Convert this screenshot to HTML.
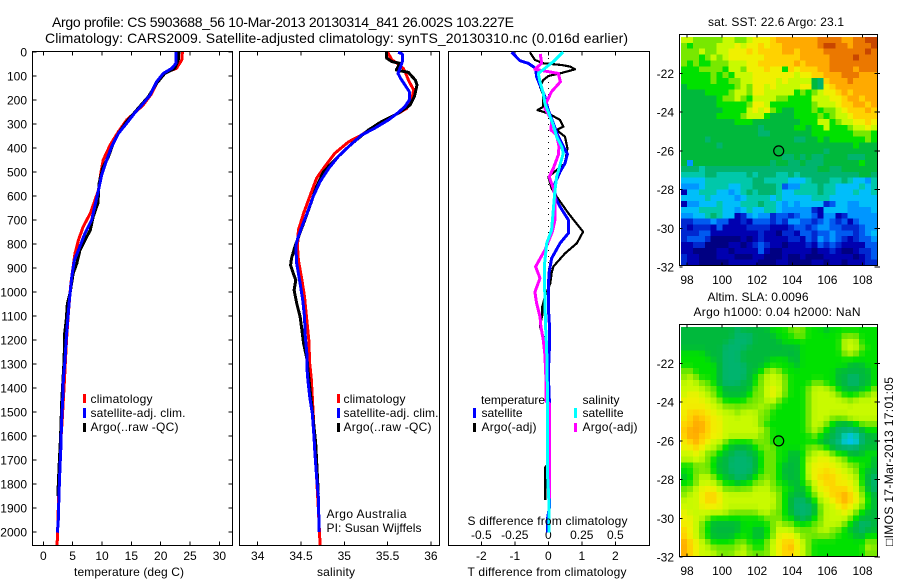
<!DOCTYPE html>
<html>
<head>
<meta charset="utf-8">
<title>Argo profile</title>
<style>
html,body{margin:0;padding:0;background:#fff;}
svg{display:block;}
text{font-family:"Liberation Sans",sans-serif;font-size:12px;fill:#000;}
.ttl{font-size:14px;}
</style>
</head>
<body>
<svg id="fig" xmlns="http://www.w3.org/2000/svg" width="900" height="580" viewBox="0 0 900 580">
<rect x="0" y="0" width="900" height="580" fill="#fff"/>
<text class="ttl" x="52" y="27" textLength="462">Argo profile: CS 5903688_56  10-Mar-2013 20130314_841 26.002S 103.227E</text>
<text class="ttl" x="45" y="43" textLength="583">Climatology: CARS2009. Satellite-adjusted climatology: synTS_20130310.nc (0.016d earlier)</text>

<g id="heat1"></g>
<g id="heat2"></g>
<g id="axes"></g>
<g id="marks"></g>

<g>
<text x="90.5" y="403" textLength="62">climatology</text>
<text x="90.5" y="417" textLength="95">satellite-adj. clim.</text>
<text x="90.5" y="431" textLength="88">Argo(..raw -QC)</text>
<rect x="83" y="394" width="3" height="9" fill="#f00"/>
<rect x="83" y="408" width="3" height="10" fill="#00f"/>
<rect x="83" y="423" width="3" height="9" fill="#000"/>
</g>
<g>
<text x="343.5" y="403" textLength="62">climatology</text>
<text x="343.5" y="417" textLength="95">satellite-adj. clim.</text>
<text x="343.5" y="431" textLength="88">Argo(..raw -QC)</text>
<rect x="337" y="394" width="3" height="9" fill="#f00"/>
<rect x="337" y="408" width="3" height="10" fill="#00f"/>
<rect x="337" y="423" width="3" height="9" fill="#000"/>
<text x="326.5" y="518" textLength="80">Argo Australia</text>
<text x="326.5" y="532" textLength="95">PI: Susan Wijffels</text>
</g>
<g>
<text x="481" y="404" textLength="64">temperature</text>
<text x="481.5" y="417" textLength="41">satellite</text>
<text x="481.5" y="431" textLength="55">Argo(-adj)</text>
<text x="582.5" y="404" textLength="37">salinity</text>
<text x="582.5" y="417" textLength="41">satellite</text>
<text x="582.5" y="431" textLength="55">Argo(-adj)</text>
<rect x="473" y="408" width="3" height="10" fill="#00f"/>
<rect x="473" y="423" width="3" height="9" fill="#000"/>
<rect x="574" y="408" width="3" height="10" fill="#0ff"/>
<rect x="574" y="423" width="3" height="9" fill="#f0f"/>
<text x="467.5" y="525" textLength="160">S difference from climatology</text>
</g>

<text x="129" y="576" text-anchor="middle" textLength="110">temperature (deg C)</text>
<text x="336" y="576" text-anchor="middle" textLength="38">salinity</text>
<text x="547" y="576" text-anchor="middle" textLength="159">T difference from climatology</text>

<text x="776" y="26" text-anchor="middle" textLength="136">sat. SST: 22.6 Argo: 23.1</text>
<text x="758" y="301" text-anchor="middle" textLength="101">Altim. SLA: 0.0096</text>
<text x="777" y="316" text-anchor="middle" textLength="167">Argo h1000: 0.04 h2000: NaN</text>
<text transform="translate(893,546) rotate(-90)" x="0" y="0" textLength="169">□IMOS 17-Mar-2013 17:01:05</text>
</svg>

<script>
/* ---------- profile data: depths in dbar, temperature in deg C, salinity in psu ---------- */
var tempClimDepth = [0,33,68,89,117,179,221,253,283,332,387,450,506,575,617,672,728,783,839,908,964,1080,1200,1370,1540,1650,1800,1950,2055];
var tempClimValue = [23.7,23.6,22.7,20.45,19.6,18.3,17.0,15.6,14.2,12.8,11.4,10.2,9.8,9.4,8.8,8.0,6.8,6.0,5.4,5.0,4.7,4.3,3.95,3.6,3.2,2.9,2.65,2.5,2.35];
var tempArgoDepth = [0,33,68,89,131,186,242,290,339,381,436,485,547,630,686,742,783,825,881,922,1006,1047,1117,1172,1283,1450,1600,1700,1800,1850];
var tempArgoValue = [23.1,23.0,22.4,20.7,19.3,17.9,15.9,14.2,12.8,11.9,11.1,10.1,9.5,9.3,8.5,8.0,7.1,6.25,5.7,5.1,4.55,4.1,3.9,3.65,3.55,3.15,2.95,2.75,2.55,2.5];
var tempSatDepth = [0,47,68,89,124,179,221,253,297,339,394,450,512,575,630,700,755,825,867,936,1033,1130,1200,1283,1367,1450,1547,1644,1727,1840,1950,2003];
var tempSatValue = [22.6,22.6,21.9,20.45,19.3,18.2,16.8,15.6,14.2,12.8,11.65,10.8,9.95,9.4,8.9,8.25,7.1,6.0,5.3,4.85,4.45,4.1,3.9,3.7,3.4,3.3,3.1,3.0,2.85,2.67,2.56,2.4];

var salClimDepth = [1,33,47,68,89,117,158,200,235,256,290,346,374,422,485,526,603,672,742,811,867,950,1019,1130,1200,1297,1367,1500,1700,1900,2055];
var salClimValue = [35.50,35.55,35.61,35.68,35.71,35.74,35.80,35.78,35.72,35.62,35.43,35.20,35.05,34.89,34.76,34.68,34.60,34.53,34.47,34.46,34.47,34.51,34.54,34.57,34.59,34.60,34.62,34.64,34.67,34.70,34.72];
var salArgoDepth = [1,26,40,47,75,85,117,137,186,221,256,290,325,381,436,499,561,644,714,742,811,860,888,922,950,992,1047,1103,1158,1214,1283,1321,1630,1840];
var salArgoValue = [35.49,35.49,35.55,35.64,35.60,35.74,35.82,35.84,35.81,35.76,35.62,35.43,35.28,35.09,34.93,34.76,34.68,34.60,34.53,34.50,34.43,34.39,34.38,34.41,34.44,34.42,34.45,34.49,34.51,34.53,34.57,34.58,34.67,34.70];
var salSatDepth = [1,8,40,61,89,110,137,165,200,228,253,283,318,346,394,436,485,540,603,672,728,779,811,881,964,1033,1103,1186,1269,1325,1367,1436,1506,1603,1672,1769,1853,2000];
var salSatValue = [35.62,35.67,35.67,35.65,35.62,35.65,35.70,35.75,35.75,35.70,35.62,35.51,35.35,35.20,35.05,34.93,34.82,34.72,34.64,34.57,34.51,34.46,34.44,34.45,34.49,34.52,34.54,34.55,34.57,34.57,34.58,34.60,34.63,34.65,34.66,34.68,34.70,34.71];

/* temperature difference (black, blue) on T scale, salinity difference (magenta, cyan) on S scale */
var diffTArgoDepth = [1,33,47,54,61,72,89,100,117,144,179,228,242,256,283,311,325,353,401,464,492,520,568,603,672,749,797,839,894,922,964,1019,1061,1096,1144,1193,1269,1367,1450,1720,1730,1867];
var diffTArgoValue = [-0.55,-0.4,-0.15,0.4,0.65,0.8,0.35,0,-0.15,-0.25,-0.15,-0.15,-0.32,0,0.35,0.45,0.25,0.5,0.57,0.5,0.25,0,0.1,0.25,0.6,1.04,0.85,0.5,0.15,0.1,0.06,-0.1,-0.18,-0.18,-0.25,-0.13,-0.05,-0.05,-0.03,-0.03,-0.09,-0.09];
var diffTSatDepth = [1,36,47,68,103,137,186,242,297,353,394,425,464,499,547,603,644,700,755,797,860,922,992,1061,1130,1242,1339,1450,1900,1950,2003];
var diffTSatValue = [-1.09,-0.85,-0.6,-0.38,-0.35,-0.25,-0.1,0,0.15,0.3,0.45,0.57,0.5,0.35,0.2,0.2,0.35,0.6,0.6,0.35,0.1,0.02,0,0,0.03,0.03,0,0.03,0.03,-0.03,-0.03];
var diffSArgoDepth = [8,47,72,89,124,165,207,235,283,325,346,394,429,485,520,568,603,700,749,825,894,943,1000,1047,1103,1144,1200,1262,1367,1455,1465,1860];
var diffSArgoValue = [-0.06,-0.05,-0.1,0.075,0.09,0.025,-0.012,-0.025,0.025,0.02,0.062,0.08,0.075,0.037,0.007,0.037,0.05,0.05,0.03,-0.025,-0.095,-0.062,-0.1,-0.087,-0.062,-0.055,-0.037,-0.025,-0.017,-0.017,0.008,0.008];
var diffSSatDepth = [1,6,40,68,89,124,172,214,250,304,353,394,422,471,520,575,658,742,797,894,1033,1144,1242,1408,1450,1750,1880,2003];
var diffSSatValue = [0.112,0.1,0.037,-0.025,-0.075,-0.062,-0.037,-0.025,0,0.037,0.062,0.1,0.112,0.087,0.062,0.05,0.037,0.025,-0.012,-0.03,-0.025,-0.02,-0.012,-0.007,-0.007,-0.007,0.005,0.007];

/* ---------- axis tick labels ---------- */
var depthTicks = [0,100,200,300,400,500,600,700,800,900,1000,1100,1200,1300,1400,1500,1600,1700,1800,1900,2000];
var tempTicks = [0,5,10,15,20,25,30];
var salTicks = [34,34.5,35,35.5,36];
var diffTTicks = [-2,-1,0,1,2];
var diffSTicks = [-0.5,-0.25,0,0.25,0.5];
var lonTicks = [98,100,102,104,106,108];
var latTicks = [-22,-24,-26,-28,-30,-32];

/* ---------- float position ---------- */
var floatLon = [103.227];
var floatLat = [-26.002];

/* ---------- map grids: colour levels on the shared palette, north row first ---------- */
var sstGrid = [
[11,11,10,10,10,10,10,11,11,10,10,11,12,12,12,13,14,14,14,14,14,14,14,15,15,15,15,14,14,15,15,16,16],
[10,9,10,10,10,10,11,11,11,12,11,12,12,13,12,13,13,14,14,14,14,14,14,15,16,16,15,15,14,15,15,15,16],
[10,10,10,11,10,10,11,11,12,12,12,13,12,13,13,13,13,14,14,13,14,14,14,14,15,15,15,15,15,15,15,16,15],
[10,10,10,9,10,11,10,11,12,12,12,12,12,12,13,13,13,13,13,13,14,14,14,14,14,15,15,15,15,16,15,15,15],
[10,9,10,9,9,10,10,10,11,11,11,12,12,13,13,13,13,13,13,14,13,14,14,14,14,15,15,15,15,15,15,15,15],
[9,9,9,10,10,10,10,9,11,11,10,12,12,12,13,12,12,9,13,12,13,13,13,14,14,15,15,15,15,14,15,15,15],
[9,9,9,9,9,10,9,10,9,11,11,11,12,12,12,12,12,12,12,11,12,12,13,13,14,14,14,15,15,15,14,14,14],
[9,9,9,9,9,10,9,9,10,10,11,11,12,12,12,12,11,12,11,11,11,11,8,7,13,14,14,14,15,14,14,14,14],
[8,9,9,9,9,9,9,9,9,10,11,10,12,12,11,12,11,11,11,11,12,12,8,7,12,13,14,14,14,14,14,14,14],
[8,8,8,8,9,9,9,9,10,11,11,10,12,12,11,11,11,11,11,9,10,9,10,11,12,12,13,14,13,14,14,14,14],
[8,8,8,8,8,8,9,10,10,11,10,9,11,11,11,11,10,10,9,9,9,9,11,11,11,12,12,13,14,14,13,14,14],
[8,8,8,8,8,8,9,9,9,9,9,10,12,12,11,9,9,9,9,9,9,9,10,11,11,11,12,13,13,14,14,13,14],
[8,8,8,8,8,8,8,9,9,9,9,11,12,11,12,10,9,8,8,9,9,9,10,9,10,10,11,12,13,13,13,14,13],
[8,8,8,8,8,8,9,9,9,9,10,11,11,11,9,8,8,8,8,9,9,9,9,10,9,10,11,11,12,13,13,13,13],
[8,8,8,8,8,8,8,8,8,9,9,9,8,8,8,8,8,8,8,8,9,9,9,11,11,9,10,11,11,12,12,13,12],
[8,8,8,8,8,8,8,8,8,8,8,8,8,7,8,8,8,8,8,9,9,8,9,9,11,9,9,9,10,11,11,12,11],
[8,8,8,8,8,8,8,8,8,8,8,8,8,7,7,8,8,8,8,8,8,8,9,9,9,9,9,9,9,10,10,10,9],
[8,8,8,8,7,8,8,8,8,8,8,8,8,8,8,8,8,8,8,7,7,8,8,9,8,9,9,9,9,9,9,10,9],
[8,8,8,8,8,8,7,8,8,8,8,8,8,8,8,8,8,8,8,8,8,8,8,8,8,8,8,8,8,9,8,8,8],
[8,8,8,8,8,8,8,8,8,8,8,8,8,8,8,8,8,8,8,8,8,8,8,8,7,8,8,8,8,8,8,8,8],
[8,8,8,8,8,8,8,8,8,8,8,8,8,8,8,8,8,7,7,8,7,8,7,7,8,8,8,8,7,7,7,8,8],
[8,4,8,8,8,8,8,8,8,8,8,8,8,8,8,7,8,8,7,7,8,7,7,7,8,8,8,8,8,8,9,8,8],
[7,7,7,6,7,7,7,7,7,7,7,7,7,7,7,7,7,7,7,7,7,7,7,8,8,7,7,8,8,8,8,8,8],
[6,6,6,6,7,7,6,6,6,6,6,7,6,7,7,7,6,6,7,6,7,7,7,7,7,7,7,7,7,7,8,8,7],
[5,5,5,5,6,6,6,6,6,6,6,6,7,7,6,6,6,6,5,5,5,6,7,7,7,6,6,7,6,5,5,4,6],
[4,4,4,5,6,6,6,6,5,5,6,6,7,7,7,7,6,3,4,4,6,6,6,7,6,6,5,5,5,5,6,5,6],
[1,5,5,6,6,6,5,5,4,5,6,7,6,7,7,7,6,5,5,6,6,6,6,7,6,6,5,5,5,6,5,5,6],
[5,5,5,5,6,5,5,5,5,4,5,6,6,6,6,5,6,5,5,5,5,5,6,6,6,5,5,5,5,5,5,5,5],
[1,4,4,5,5,5,6,5,5,5,6,6,6,7,6,6,5,4,5,4,5,5,5,5,2,3,5,5,4,4,5,5,5],
[5,5,5,6,6,6,6,5,5,4,5,6,5,5,6,6,5,4,4,4,4,4,2,1,5,5,5,5,4,4,4,4,5],
[4,4,5,5,6,7,6,5,5,1,2,4,5,4,4,2,3,3,2,3,4,4,3,1,4,4,1,2,4,4,4,4,4],
[2,2,3,3,3,4,3,3,1,1,2,1,3,3,3,2,3,2,4,4,3,3,2,3,4,3,2,3,1,3,4,4,4],
[2,1,2,2,2,1,3,1,1,1,1,2,2,2,2,1,1,1,2,3,3,2,3,4,4,3,3,2,2,2,3,4,4],
[2,2,2,3,3,1,1,1,1,1,1,1,1,2,1,1,0,2,2,1,3,3,2,3,3,4,3,3,3,2,3,4,5],
[2,3,3,3,2,0,0,0,0,0,1,0,1,2,1,1,1,1,2,2,1,3,2,4,3,4,3,2,1,2,3,3,4],
[1,1,2,2,0,0,0,0,1,1,0,1,2,3,2,1,1,0,1,1,1,2,1,3,2,3,2,1,1,1,1,3,3],
[1,1,0,0,0,0,1,1,0,1,1,1,1,3,1,0,0,1,1,1,1,1,0,1,1,2,1,0,0,1,2,2,3],
[2,1,1,0,0,0,1,1,1,0,0,0,1,1,0,0,0,1,0,0,1,0,0,0,1,1,1,1,1,0,1,2,3],
[2,1,1,0,0,0,0,0,1,1,1,1,1,0,0,0,1,1,0,0,0,0,1,1,0,1,1,0,1,1,1,2,2]
];
var slaGrid = [
[8,8,8,8,8,8,8,8,8,7,8,8,8,8,8,9,9,9,10,10,10,9,9,9,8,9,9,9,9,9,9,9,9],
[8,8,8,8,8,8,8,8,8,7,7,7,8,8,8,8,9,9,9,10,10,9,9,9,9,9,9,10,10,10,9,9,9],
[8,8,8,8,8,8,8,8,7,7,7,7,8,8,8,8,8,9,9,9,9,9,9,9,9,9,9,11,11,11,9,9,9],
[8,8,8,8,8,8,8,7,7,7,7,8,8,8,8,8,8,8,8,8,9,9,9,9,9,9,9,11,11,11,10,9,9],
[9,9,9,9,8,8,8,7,7,7,8,8,8,8,8,8,8,8,8,8,9,9,9,9,9,9,9,10,11,10,9,9,9],
[9,9,9,9,9,8,8,7,7,7,8,8,8,8,8,9,9,9,8,8,9,9,9,9,9,9,9,9,9,9,9,9,9],
[9,9,9,9,9,9,8,7,7,7,7,8,8,8,9,9,9,9,9,8,9,9,9,9,9,9,9,9,8,8,8,9,9],
[10,10,9,9,9,9,8,7,7,7,7,8,8,9,10,11,10,9,9,9,9,9,9,9,9,9,8,8,8,8,8,8,9],
[10,11,10,9,9,9,8,7,7,7,7,8,9,10,11,11,11,10,9,9,9,9,9,9,9,9,8,8,7,7,8,8,9],
[11,11,11,10,10,9,8,7,7,7,8,8,9,10,11,11,11,10,9,9,9,9,10,10,9,9,8,8,7,7,8,8,9],
[11,11,11,11,10,10,9,8,8,8,8,8,10,10,11,12,11,10,9,9,9,10,11,11,11,10,9,8,8,8,8,9,10],
[11,12,12,11,11,10,9,8,8,8,8,9,10,10,11,12,11,10,9,9,9,10,11,11,11,11,10,9,9,9,10,10,11],
[12,12,12,12,11,11,10,9,9,9,9,10,10,10,11,11,10,9,9,9,9,10,11,11,11,11,11,11,10,11,11,11,11],
[12,12,12,12,12,11,11,10,10,10,10,10,10,11,10,10,9,9,9,9,9,10,11,11,11,11,11,11,11,11,11,11,11],
[12,13,13,13,12,12,11,11,11,10,11,11,11,10,10,9,9,9,9,9,9,10,11,11,11,11,11,11,11,11,11,11,11],
[12,13,14,13,13,12,12,11,11,11,11,11,11,10,10,9,9,9,9,9,9,10,11,11,11,10,10,10,11,11,11,11,11],
[13,13,14,14,13,12,12,11,11,11,11,11,11,10,9,9,9,9,9,9,9,10,11,11,10,9,8,8,8,9,10,10,10],
[13,14,14,14,13,12,12,11,11,11,11,11,11,11,10,9,9,9,9,9,9,10,11,10,9,8,7,7,7,7,8,9,9],
[13,14,14,13,13,12,12,11,11,11,11,11,11,10,10,9,9,9,9,9,9,9,10,9,8,8,7,6,5,6,7,8,8],
[12,13,14,13,12,11,11,10,9,9,9,9,10,10,10,9,9,9,9,9,9,9,9,8,8,7,7,5,5,5,7,8,8],
[12,12,13,12,11,11,10,9,8,8,8,8,9,10,10,10,9,9,9,9,9,10,10,10,9,8,7,7,7,7,8,8,8],
[11,11,12,11,10,10,9,8,8,7,7,8,8,9,10,10,9,9,8,8,9,10,11,11,11,10,9,9,8,8,8,9,9],
[11,11,11,11,10,9,8,8,7,7,7,7,8,9,10,10,9,9,8,8,9,11,11,12,12,11,11,10,9,9,9,9,8],
[9,9,10,10,10,9,8,8,7,7,7,7,8,9,10,10,9,8,8,8,9,11,12,12,12,12,11,11,10,10,9,9,8],
[9,9,10,10,10,9,8,8,7,7,7,7,8,9,10,10,9,8,8,8,9,11,12,12,13,12,12,11,11,10,9,8,8],
[8,9,10,11,11,10,9,8,8,7,7,8,9,10,10,10,9,8,8,8,9,11,12,13,13,13,12,12,11,11,9,8,7],
[9,9,10,11,11,11,10,9,9,8,9,9,10,10,11,10,9,9,8,8,9,10,11,12,13,13,12,12,12,11,9,8,7],
[10,10,11,12,12,12,11,10,10,10,10,10,11,11,11,10,10,9,9,8,8,9,11,12,12,13,13,13,12,11,10,8,7],
[10,11,11,12,13,13,12,11,11,11,11,11,11,11,11,11,10,9,8,8,8,9,10,11,12,13,13,14,13,12,10,9,8],
[11,11,11,12,13,13,12,11,11,11,11,11,11,11,11,11,10,9,8,7,7,8,9,11,11,12,13,14,13,12,11,9,8],
[11,11,11,12,12,12,12,11,11,11,11,11,11,11,11,11,10,9,8,7,7,7,8,10,11,11,12,13,12,11,10,9,8],
[12,11,11,11,11,11,11,11,10,10,10,10,10,11,11,10,10,9,8,7,7,7,8,10,11,11,11,12,11,10,9,8,8],
[12,12,11,11,10,9,9,9,9,9,9,9,9,9,10,10,10,9,9,8,7,8,9,10,11,11,11,11,10,9,8,8,8],
[12,12,11,10,9,8,8,8,8,8,9,9,9,9,9,10,11,10,10,9,9,9,10,10,11,11,11,10,9,8,7,7,8],
[13,12,11,10,9,8,8,8,8,8,9,9,8,8,9,10,11,11,11,10,10,10,10,11,11,10,10,9,8,8,7,8,8],
[13,12,11,10,9,8,8,8,8,9,9,9,8,8,9,10,12,12,12,11,10,10,10,10,10,10,9,9,9,8,8,9,9],
[14,13,12,11,10,9,9,9,9,10,10,9,9,9,10,11,12,13,13,12,11,10,9,9,9,9,9,9,9,9,9,10,10],
[14,13,12,11,11,10,10,10,10,10,11,10,9,9,10,11,12,13,14,12,11,10,9,9,9,9,9,9,9,9,9,11,10],
[14,13,12,11,11,11,10,10,10,11,11,10,10,10,10,11,12,13,13,12,11,10,9,9,9,9,9,9,9,9,9,10,10]
];

/* ---------- palette ---------- */
var paletteRGB = [[0,0,130],[0,0,176],[0,40,208],[0,90,240],[0,150,255],[0,190,250],[0,200,170],[0,180,110],[0,185,60],[0,225,0],[120,232,0],[200,250,0],[240,240,0],[255,210,0],[255,170,0],[235,120,0],[200,70,0]];

/* ---------- scales ---------- */
function depthY(d){ return 52 + 0.24 * d; }
function tempX(t){ return 43.3 + 5.87 * t; }
function salX(s){ return 257.7 + 86.6 * (s - 34); }
function diffTX(t){ return 548.3 + 33.5 * t; }
function diffSX(s){ return 548.3 + 134 * s; }
function lonX(lon){ return 687 + 17.55 * (lon - 98); }
function latY(top, lat){ return top + 39 + 19.35 * (-22 - lat); }
function levelColor(v){
  var lo = Math.max(0, Math.min(paletteRGB.length - 1, Math.floor(v)));
  var hi = Math.min(paletteRGB.length - 1, lo + 1);
  var f = v - lo;
  var c = [0,1,2].map(function(k){ return Math.round(paletteRGB[lo][k] * (1 - f) + paletteRGB[hi][k] * f); });
  return 'rgb(' + c.join(',') + ')';
}
/* the SLA field is a smooth interpolated product: each cell shades with its neighbours */
function softLevel(grid, r, c){
  var sum = grid[r][c] * 4, n = 4;
  [[-1,0],[1,0],[0,-1],[0,1]].forEach(function(o){
    var row = grid[r + o[0]];
    if (row && row[c + o[1]] !== undefined) { sum += row[c + o[1]]; n += 1; }
  });
  return sum / n;
}

var NS = 'http://www.w3.org/2000/svg';
var axes = document.getElementById('axes');
var marks = document.getElementById('marks');

function segment(parent, x1, y1, x2, y2, name){
  var el = document.createElementNS(NS, 'line');
  el.setAttribute('x1', x1);
  el.setAttribute('y1', y1);
  el.setAttribute('x2', x2);
  el.setAttribute('y2', y2);
  el.setAttribute('stroke', '#000');
  el.setAttribute('stroke-width', '1');
  el.setAttribute('shape-rendering', 'crispEdges');
  
  
  parent.appendChild(el);
  return el;
}
function label(parent, x, y, str, anchor, name){
  var el = document.createElementNS(NS, 'text');
  el.setAttribute('x', x);
  el.setAttribute('y', y);
  el.setAttribute('text-anchor', anchor);
  el.textContent = str;
  
  
  parent.appendChild(el);
  return el;
}
function frame(parent, x1, y1, x2, y2, name){
  var el = document.createElementNS(NS, 'rect');
  el.setAttribute('x', x1);
  el.setAttribute('y', y1);
  el.setAttribute('width', x2 - x1);
  el.setAttribute('height', y2 - y1);
  el.setAttribute('fill', 'none');
  el.setAttribute('stroke', '#000');
  el.setAttribute('stroke-width', '1');
  el.setAttribute('shape-rendering', 'crispEdges');
  
  
  parent.appendChild(el);
}
function profile(xFn, depths, values, color, width, name){
  var el = document.createElementNS(NS, 'polyline');
  var pts = depths.map(function(d, i){ return xFn(values[i]).toFixed(1) + ',' + depthY(d).toFixed(1); });
  el.setAttribute('points', pts.join(' '));
  el.setAttribute('fill', 'none');
  el.setAttribute('stroke', color);
  el.setAttribute('stroke-width', width);
  el.setAttribute('stroke-linejoin', 'round');
  el.setAttribute('shape-rendering', 'crispEdges');
  
  
  marks.appendChild(el);
}

/* panel frames */
var panelTop = 51.5, panelBottom = 545.5;
frame(axes, 32.5, panelTop, 232.5, panelBottom, 'temperature-axes-frame');
frame(axes, 239.5, panelTop, 439.5, panelBottom, 'salinity-axes-frame');
frame(axes, 448.5, panelTop, 649.5, panelBottom, 'difference-axes-frame');

/* depth axis */
depthTicks.forEach(function(d){
  var y = depthY(d);
  segment(axes, 32.5, y, 36.5, y, 'depth-tick-left');
  segment(axes, 228.5, y, 232.5, y, 'depth-tick-right');
  label(axes, 27, y + 4.5, String(d), 'end', 'depth-tick-label');
});
/* temperature axis */
tempTicks.forEach(function(t){
  var x = tempX(t);
  segment(axes, x, panelTop, x, panelTop + 4, 'temperature-tick-top');
  segment(axes, x, panelBottom - 4, x, panelBottom, 'temperature-tick-bottom');
  label(axes, x, 560, String(t), 'middle', 'temperature-tick-label');
});
/* salinity axis */
salTicks.forEach(function(s){
  var x = salX(s);
  segment(axes, x, panelTop, x, panelTop + 4, 'salinity-tick-top');
  segment(axes, x, panelBottom - 4, x, panelBottom, 'salinity-tick-bottom');
  label(axes, x, 560, String(s), 'middle', 'salinity-tick-label');
});
/* difference axes */
diffTTicks.forEach(function(t){
  var x = diffTX(t);
  segment(axes, x, panelTop, x, panelTop + 4, 'difference-tick-top');
  segment(axes, x, panelBottom - 4, x, panelBottom, 'difference-tick-bottom');
  label(axes, x, 560, String(t), 'middle', 't-difference-tick-label');
});
diffSTicks.forEach(function(s){
  label(axes, diffSX(s), 539, String(s), 'middle', 's-difference-tick-label');
});

/* zero line */
var zero = segment(marks, diffTX(0), depthY(0), diffTX(0), depthY(2000), 'zero-difference-line');
zero.setAttribute('stroke-dasharray', '1 5');

/* profile lines */
profile(tempX, tempClimDepth, tempClimValue, '#f00', 3, 'temperature-climatology-line');
profile(tempX, tempArgoDepth, tempArgoValue, '#000', 3, 'temperature-argo-line');
profile(tempX, tempSatDepth, tempSatValue, '#00f', 3, 'temperature-satellite-line');
profile(salX, salClimDepth, salClimValue, '#f00', 3, 'salinity-climatology-line');
profile(salX, salArgoDepth, salArgoValue, '#000', 3, 'salinity-argo-line');
profile(salX, salSatDepth, salSatValue, '#00f', 3, 'salinity-satellite-line');
profile(diffTX, diffTArgoDepth, diffTArgoValue, '#000', 2.2, 't-difference-argo-line');
profile(diffTX, diffTSatDepth, diffTSatValue, '#00f', 3, 't-difference-satellite-line');
profile(diffSX, diffSArgoDepth, diffSArgoValue, '#f0f', 3, 's-difference-argo-line');
profile(diffSX, diffSSatDepth, diffSSatValue, '#0ff', 3, 's-difference-satellite-line');

/* maps */
function drawMap(groupId, grid, frameTop, frameBottom, cellTop, xLabelY, prefix, soft){
  var g = document.getElementById(groupId);
  var rows = grid.length;
  var cols = grid[0].length;
  var cellW = 196 / cols;
  var cellH = (frameBottom - cellTop) / rows;
  grid.forEach(function(row, r){
    row.forEach(function(v, c){
      var el = document.createElementNS(NS, 'rect');
      el.setAttribute('x', (681 + c * cellW).toFixed(2));
      el.setAttribute('y', (cellTop + r * cellH).toFixed(2));
      el.setAttribute('width', (cellW + 0.2).toFixed(2));
      el.setAttribute('height', (cellH + 0.2).toFixed(2));
      el.setAttribute('fill', levelColor(soft ? softLevel(grid, r, c) : v));
      el.setAttribute('shape-rendering', 'crispEdges');
      
      
      g.appendChild(el);
    });
  });
  frame(axes, 679.5, frameTop, 877.5, frameBottom, prefix + '-map-frame');
  lonTicks.forEach(function(lon){
    var x = lonX(lon);
    segment(axes, x, frameTop, x, frameTop + 3, prefix + '-lon-tick-top');
    segment(axes, x, frameBottom - 3, x, frameBottom, prefix + '-lon-tick-bottom');
    label(axes, x, xLabelY, String(lon), 'middle', prefix + '-lon-tick-label');
  });
  latTicks.forEach(function(lat){
    var y = latY(frameTop, lat);
    segment(axes, 679.5, y, 682.5, y, prefix + '-lat-tick-left');
    segment(axes, 874.5, y, 880, y, prefix + '-lat-tick-right');
    label(axes, 674, y + 4.5, String(lat), 'end', prefix + '-lat-tick-label');
  });
  var dot = document.createElementNS(NS, 'circle');
  dot.setAttribute('cx', lonX(floatLon[0]).toFixed(1));
  dot.setAttribute('cy', latY(frameTop, floatLat[0]).toFixed(1));
  dot.setAttribute('r', '5');
  dot.setAttribute('fill', 'none');
  dot.setAttribute('stroke', '#000');
  dot.setAttribute('stroke-width', '1.2');
  
  
  axes.appendChild(dot);
}
drawMap('heat1', sstGrid, 34.5, 265.5, 37, 284, 'sst', false);
drawMap('heat2', slaGrid, 324.5, 556.5, 327, 575, 'sla', true);
</script>
</body>
</html>
